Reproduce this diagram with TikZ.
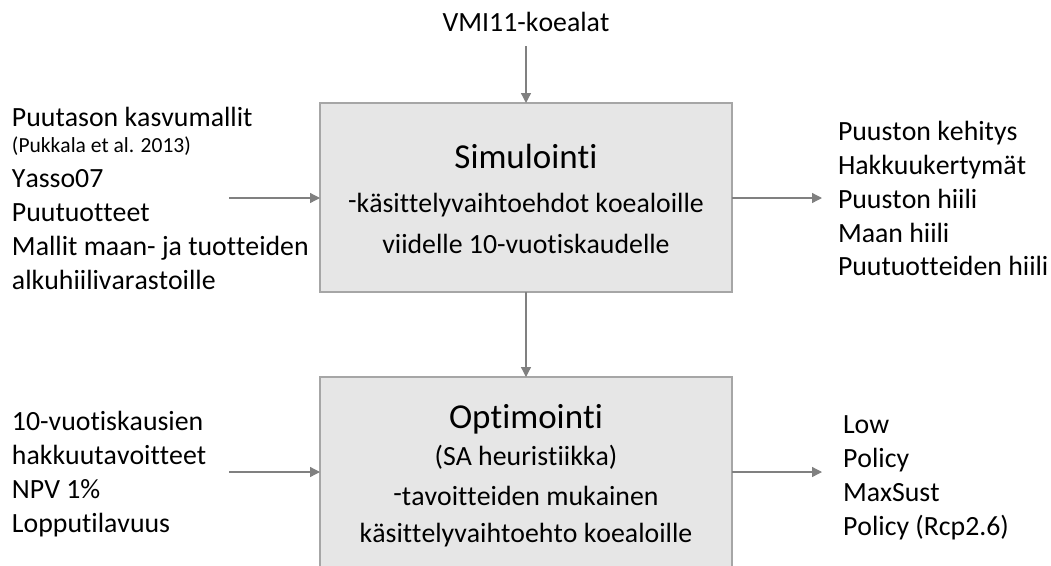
\documentclass[tikz,border=0pt]{standalone}
\usepackage{fontspec}
\setmainfont{Carlito}[Ligatures=NoCommon, Kerning=Off]
\usetikzlibrary{arrows.meta}
\definecolor{boxfill}{RGB}{230,230,230}
\definecolor{boxline}{RGB}{166,166,166}
\definecolor{arrowgray}{RGB}{128,128,128}
\tikzset{
  body/.style={font=\fontsize{27.8}{34}\selectfont},
  small/.style={font=\fontsize{21.5}{25}\selectfont},
  title/.style={font=\fontsize{35}{42}\selectfont},
  txt/.style={inner sep=0pt, outer sep=0pt, text=black},
  stagebox/.style={draw=boxline, line width=1.5pt, fill=boxfill,
    minimum width=412pt, inner sep=0pt, outer sep=0pt},
  flow/.style={draw=arrowgray, line width=1.3pt,
    -{Triangle[length=10pt,width=10pt,fill=arrowgray]}},
}
\newcommand{\updash}{\raisebox{2.5pt}{-}}
\begin{document}
\begin{tikzpicture}[x=1pt,y=-1pt]
\clip (0,0) rectangle (1051,565);

% stage boxes
\node[stagebox, minimum height=189pt] (sim) at (526,197.5) {};
\node[stagebox, minimum height=240pt] (opt) at (526,497) {};

% simulation box text
\node[txt, title, anchor=base] (simT) at (526,168) {Simulointi};
\node[txt, body, anchor=base] (simA) at (526,212) {\updash käsittelyvaihtoehdot koealoille};
\node[txt, body, anchor=base] (simB) at (526,253) {viidelle 10-vuotiskaudelle};

% optimisation box text
\node[txt, title, anchor=base] (optT) at (526,428) {Optimointi};
\node[txt, body, anchor=base] (optA) at (526,465) {(SA heuristiikka)};
\node[txt, body, anchor=base] (optB) at (526,505) {\updash tavoitteiden mukainen};
\node[txt, body, anchor=base] (optC) at (526,542) {käsittelyvaihtoehto koealoille};

% top input
\node[txt, body, anchor=base] (vmi) at (526,31) {VMI11-koealat};

% simulation inputs
\node[txt, body, anchor=base west] (inA1) at (12,126) {Puutason kasvumallit};
\node[txt, small, anchor=base west] (inA2) at (12,152) {(Pukkala et al. 2013)};
\node[txt, body, anchor=base west] (inA3) at (12,187) {Yasso07};
\node[txt, body, anchor=base west] (inA4) at (12,221) {Puutuotteet};
\node[txt, body, anchor=base west] (inA5) at (12,255) {Mallit maan- ja tuotteiden};
\node[txt, body, anchor=base west] (inA6) at (12,289) {alkuhiilivarastoille};

% simulation outputs
\node[txt, body, anchor=base west] (outA1) at (838,140) {Puuston kehitys};
\node[txt, body, anchor=base west] (outA2) at (838,174) {Hakkuukertymät};
\node[txt, body, anchor=base west] (outA3) at (838,208) {Puuston hiili};
\node[txt, body, anchor=base west] (outA4) at (838,242) {Maan hiili};
\node[txt, body, anchor=base west] (outA5) at (838,275) {Puutuotteiden hiili};

% optimisation inputs
\node[txt, body, anchor=base west] (inB1) at (12,430) {10-vuotiskausien};
\node[txt, body, anchor=base west] (inB2) at (12,464) {hakkuutavoitteet};
\node[txt, body, anchor=base west] (inB3) at (12,498) {NPV 1\%};
\node[txt, body, anchor=base west] (inB4) at (12,532) {Lopputilavuus};

% optimisation outputs
\node[txt, body, anchor=base west] (outB1) at (843,433) {Low};
\node[txt, body, anchor=base west] (outB2) at (843,467) {Policy};
\node[txt, body, anchor=base west] (outB3) at (843,501) {MaxSust};
\node[txt, body, anchor=base west] (outB4) at (843,535) {Policy (Rcp2.6)};

% connectors
\coordinate (inAfrom) at (229,198);
\coordinate (outAto) at (822,198);
\coordinate (inBfrom) at (229,472);
\coordinate (outBto) at (822,472);

\draw[flow] ([yshift=-15pt]vmi.south) -- (sim.north);
\draw[flow] (inAfrom) -- (sim.west |- inAfrom);
\draw[flow] (sim.east |- outAto) -- (outAto);
\draw[flow] (sim.south) -- (opt.north);
\draw[flow] (inBfrom) -- (opt.west |- inBfrom);
\draw[flow] (opt.east |- outBto) -- (outBto);
\end{tikzpicture}
\end{document}
